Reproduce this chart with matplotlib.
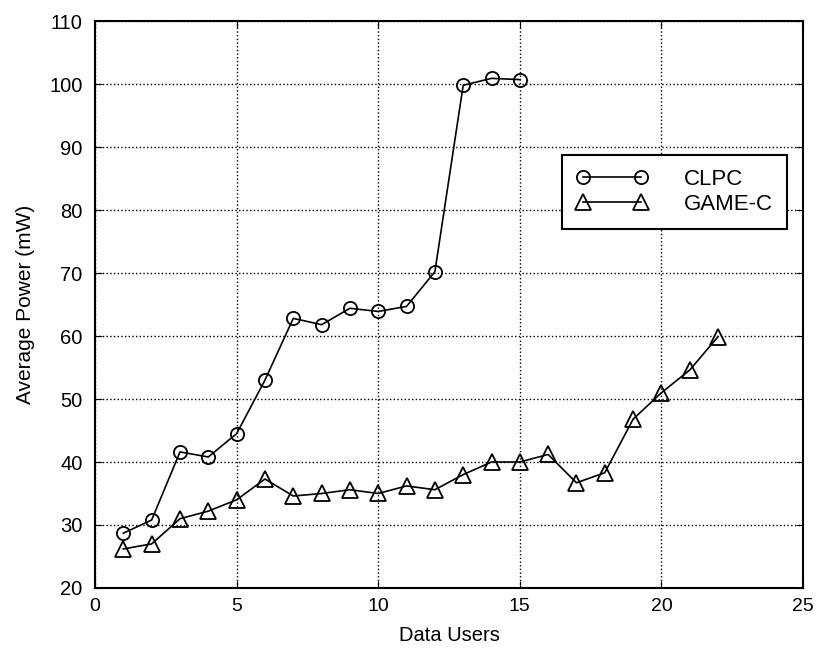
import matplotlib
matplotlib.use('Agg')
import matplotlib.pyplot as plt

# data
users_clpc = [1, 2, 3, 4, 5, 6, 7, 8, 9, 10, 11, 12, 13, 14, 15]
power_clpc = [28.7, 30.8, 41.6, 40.8, 44.5, 53.0, 62.8, 61.8, 64.4, 63.9,
              64.7, 70.2, 99.8, 100.9, 100.7]

users_game = list(range(1, 23))
power_game = [26.2, 27.0, 31.0, 32.2, 34.0, 37.3, 34.6, 35.0, 35.6, 35.0,
              36.2, 35.6, 38.0, 40.0, 40.0, 41.2, 36.7, 38.3, 46.8, 51.0,
              54.6, 59.9]

plt.rcParams['font.family'] = ['Liberation Sans', 'DejaVu Sans']

fig = plt.figure(figsize=(8.2, 6.55), dpi=100)
ax = fig.add_axes([0.1159, 0.1023, 0.8634, 0.8656])

ax.plot(users_clpc, power_clpc, 'k-', marker='o', markersize=9.5,
        markerfacecolor='none', markeredgewidth=1.3, linewidth=1.2, label='CLPC')
ax.plot(users_game, power_game, 'k-', marker='^', markersize=12,
        markerfacecolor='none', markeredgewidth=1.3, linewidth=1.2, label='GAME-C')

ax.set_xlim(0, 25)
ax.set_ylim(20, 110)
ax.set_xticks(range(0, 26, 5))
ax.set_yticks(range(20, 111, 10))
ax.grid(True, color='k', linestyle=':', linewidth=1.0)
ax.tick_params(direction='in', right=True, top=True, length=5)
ax.tick_params(axis='x', labelsize=14, pad=7)
ax.tick_params(axis='y', labelsize=14.5, pad=9)
for s in ax.spines.values():
    s.set_linewidth(1.5)

ax.set_xlabel('Data Users', fontsize=14.5, labelpad=8)
ax.set_ylabel('Average Power (mW)', fontsize=15, labelpad=10)

leg = ax.legend(loc='upper left', bbox_to_anchor=(0.66, 0.764), fontsize=16,
                handlelength=3.2, numpoints=2, fancybox=False, framealpha=1,
                edgecolor='k', borderpad=0.65, labelspacing=0.15,
                borderaxespad=0, handletextpad=1.6)
leg.get_frame().set_linewidth(1.5)

fig.savefig('out.png', dpi=100)
